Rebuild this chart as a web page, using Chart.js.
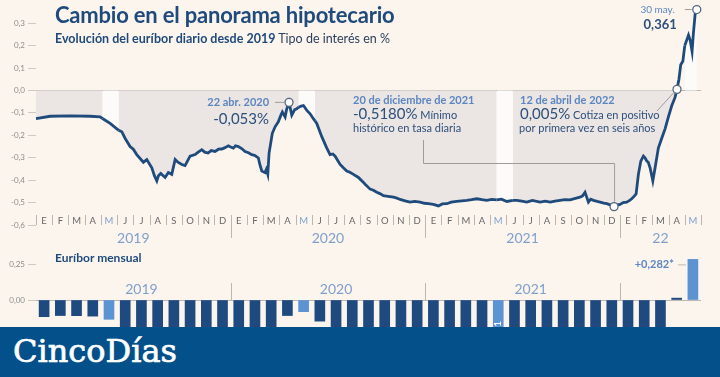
<!DOCTYPE html>
<html lang="es">
<head>
<meta charset="utf-8">
<title>Cambio en el panorama hipotecario</title>
<script src="https://cdn.jsdelivr.net/npm/chart.js@4.4.1/dist/chart.umd.min.js"></script>
<style>
  html, body { margin: 0; padding: 0; }
  body { width: 720px; height: 377px; background: #fcf5ee; position: relative; overflow: hidden; font-family: Lato, "Open Sans", sans-serif; }
  .caja { position: absolute; left: 0; width: 720px; }
  #cajaDiario { top: 0; height: 245px; }
  #cajaMensual { top: 250px; height: 77px; }
  #titulo { position: absolute; left: 55px; top: 2px; font-size: 22px; font-weight: bold; color: #1f4a7c; white-space: nowrap; line-height: 1.2; letter-spacing: -0.2px; }
  #subtitulo { position: absolute; left: 55px; top: 31px; font-size: 12.5px; color: #2b3f5c; white-space: nowrap; line-height: 1.2; }
  #subtitulo b { color: #1f4a7c; }
  #mensualTit { position: absolute; left: 55px; top: 251px; font-size: 12px; font-weight: bold; color: #1f4a7c; line-height: 1.2; }
  #banda { position: absolute; left: 0; top: 327px; width: 720px; height: 50px; background: #04508a; }
  #banda span { position: absolute; left: 13px; top: 8px; font-family: "DejaVu Serif", serif; font-size: 32px; line-height: 32px; color: #fff; -webkit-text-stroke: 0.7px #fff; }
</style>
</head>
<body>
<div class="caja" id="cajaDiario"><canvas id="diario"></canvas></div>
<div class="caja" id="cajaMensual"><canvas id="mensual"></canvas></div>
<div id="titulo">Cambio en el panorama hipotecario</div>
<div id="subtitulo"><b>Evolución del euríbor diario desde 2019</b> Tipo de interés en %</div>
<div id="mensualTit">Euríbor mensual</div>
<div id="banda"><span>CincoDías</span></div>
<script>
// meses desde enero 2019 (0 = 1 ene 2019)
const mesesLetras = ['E', 'F', 'M', 'A', 'M', 'J', 'J', 'A', 'S', 'O', 'N', 'D'];
const anios = ['2019', '2020', '2021', '22'];
const centroAnios = [6, 18, 30, 38.5];
const ticksDiario = [0.3, 0.2, 0.1, 0, -0.1, -0.2, -0.3, -0.4, -0.5, -0.6];
const ticksMensual = [0, 0.25];

const mesesDiario = [
  0, 0.87, 2.1, 3.34, 3.95, 4.1, 4.57, 5.1, 5.29, 5.49, 5.8, 6.0, 6.21, 6.62, 6.83, 7.14, 7.3, 7.45, 7.55, 7.69,
  7.96, 8.16, 8.37, 8.58, 8.75, 8.99, 9.19, 9.5, 9.81, 10.0, 10.22, 10.4, 10.61, 10.8, 11.04, 11.25, 11.46, 11.65, 11.86, 12.0,
  12.17, 12.3, 12.48, 12.7, 12.89, 13.1, 13.3, 13.5, 13.71, 13.8, 13.92, 14.12, 14.2, 14.29, 14.37, 14.57, 14.74, 14.94, 15.1, 15.19,
  15.36, 15.45, 15.6, 15.77, 15.95, 16.08, 16.2, 16.35, 16.49, 16.6, 16.7, 16.9, 17.1, 17.2, 17.31, 17.62, 17.93, 18.13, 18.3, 18.44,
  18.75, 18.95, 19.16, 19.35, 19.57, 19.88, 20.19, 20.29, 20.6, 20.8, 21.01, 21.2, 21.42, 21.7, 22.04, 22.25, 22.45, 22.75, 23.06, 23.35,
  23.68, 23.95, 24.19, 24.5, 24.81, 25.05, 25.33, 25.6, 25.94, 26.25, 26.56, 26.85, 27.18, 27.5, 27.79, 28.1, 28.4, 28.7, 29.03, 29.4,
  29.64, 29.95, 30.26, 30.6, 31.08, 31.4, 31.7, 32.0, 32.31, 32.6, 32.93, 33.2, 33.54, 33.7, 33.85, 34.06, 34.2, 34.37, 34.6, 34.78,
  35.0, 35.19, 35.4, 35.64, 35.85, 36.01, 36.2, 36.42, 36.6, 36.73, 36.9, 37.0, 37.14, 37.29, 37.45, 37.55, 37.66, 37.75, 37.86, 38.03,
  38.17, 38.37, 38.58, 38.79, 38.99, 39.2, 39.4, 39.52, 39.64, 39.75, 39.88, 40.0, 40.23, 40.33, 40.45, 40.53, 40.64, 40.74
];
const euriborDiario = [
  -0.125, -0.115, -0.113, -0.115, -0.118, -0.125, -0.147, -0.178, -0.184, -0.213, -0.25, -0.262, -0.286, -0.32, -0.308, -0.345, -0.38, -0.403, -0.38, -0.37,
  -0.388, -0.366, -0.374, -0.308, -0.32, -0.33, -0.335, -0.293, -0.286, -0.275, -0.264, -0.275, -0.279, -0.268, -0.272, -0.262, -0.261, -0.255, -0.247, -0.252,
  -0.257, -0.247, -0.25, -0.26, -0.272, -0.278, -0.286, -0.29, -0.301, -0.33, -0.359, -0.366, -0.352, -0.374, -0.279, -0.191, -0.162, -0.14, -0.11, -0.096,
  -0.118, -0.085, -0.053, -0.11, -0.085, -0.082, -0.074, -0.07, -0.067, -0.078, -0.089, -0.104, -0.126, -0.135, -0.147, -0.206, -0.257, -0.286, -0.283, -0.293,
  -0.33, -0.345, -0.359, -0.365, -0.374, -0.388, -0.41, -0.418, -0.44, -0.445, -0.454, -0.46, -0.469, -0.472, -0.476, -0.48, -0.486, -0.492, -0.498, -0.495,
  -0.498, -0.503, -0.505, -0.508, -0.515, -0.506, -0.505, -0.498, -0.495, -0.492, -0.49, -0.487, -0.483, -0.487, -0.49, -0.486, -0.488, -0.485, -0.495, -0.49,
  -0.49, -0.494, -0.498, -0.49, -0.498, -0.494, -0.498, -0.493, -0.49, -0.487, -0.488, -0.482, -0.476, -0.47, -0.454, -0.498, -0.485, -0.49, -0.495, -0.498,
  -0.502, -0.505, -0.51, -0.518, -0.51, -0.508, -0.5, -0.498, -0.49, -0.483, -0.47, -0.461, -0.374, -0.315, -0.293, -0.3, -0.315, -0.32, -0.345, -0.403,
  -0.345, -0.257, -0.213, -0.17, -0.118, -0.067, -0.031, 0.005, 0.05, 0.115, 0.13, 0.2, 0.247, 0.225, 0.174, 0.254, 0.342, 0.361
];
// tramos de mayo resaltados en blanco
const bandasMayo = [[4.1, 5.1], [16.2, 17.2], [28.4, 29.4], [40, 41]];
// puntos señalados: 22 abr 2020, 20 dic 2021, 12 abr 2022, 30 may 2022
const fechasDestacadas = [15.6, 35.64, 39.52, 40.74];

const euriborMensual = [
  -0.116, -0.108, -0.109, -0.112, -0.134, -0.190, -0.283, -0.356, -0.339, -0.304, -0.272, -0.261,
  -0.253, -0.288, -0.266, -0.108, -0.081, -0.147, -0.279, -0.359, -0.415, -0.466, -0.481, -0.497,
  -0.505, -0.501, -0.487, -0.484, -0.481, -0.484, -0.491, -0.498, -0.492, -0.477, -0.487, -0.502,
  -0.477, -0.335, -0.237, 0.013, 0.282
];

const destacados = fechasDestacadas.map(f => mesesDiario.indexOf(f));

function colorRelleno(i) {
  const m = mesesDiario[i];
  if (bandasMayo.some(([a, b]) => m >= a && m < b)) return '#fdfbfa';
  return euriborDiario[i] >= 0 ? 'rgba(0,0,0,0)' : '#ebe5e3';
}

function coma(v, d) {
  return v.toFixed(d).replace('.', ',');
}

const ejeMeses = {
  id: 'ejeMeses',
  afterDraw(chart) {
    const {ctx, scales: {x, y}} = chart;
    const base = y.bottom;
    ctx.save();
    ctx.strokeStyle = '#bcb6b2';
    ctx.lineWidth = 1;
    for (let i = 0; i <= 41; i++) {
      const px = Math.round(x.getPixelForValue(i)) + 0.5;
      const fin = (i % 12 === 0 && i > 0 && i < 41) ? base + 13 : base;
      ctx.beginPath();
      ctx.moveTo(px, base - 10);
      ctx.lineTo(px, fin);
      ctx.stroke();
    }
    ctx.font = '9.5px Lato';
    ctx.textAlign = 'center';
    ctx.textBaseline = 'middle';
    for (let i = 0; i < 41; i++) {
      ctx.fillStyle = i % 12 === 4 ? '#7fa1d0' : '#666666';
      ctx.fillText(mesesLetras[i % 12], x.getPixelForValue(i + 0.5), base - 4);
    }
    ctx.font = '14px Lato';
    ctx.fillStyle = '#7f9fcb';
    anios.forEach((a, k) => ctx.fillText(a, x.getPixelForValue(centroAnios[k]), base + 13));
    ctx.restore();
  }
};

function texto(ctx, str, x, y, font, color, align) {
  ctx.font = font;
  ctx.fillStyle = color;
  ctx.textAlign = align || 'left';
  ctx.fillText(str, x, y);
  return ctx.measureText(str).width;
}

const notas = {
  id: 'notas',
  afterDraw(chart) {
    const {ctx} = chart;
    const pts = chart.getDatasetMeta(0).data;
    const [p1, p2, p3, p4] = destacados.map(i => pts[i]);
    const claro = '#5b86c0', oscuro = '#2c4f7c';
    ctx.save();
    ctx.strokeStyle = '#a09b98';
    ctx.lineWidth = 1;
    const linea = (coords) => {
      ctx.beginPath();
      coords.forEach(([a, b], k) => k ? ctx.lineTo(a, b) : ctx.moveTo(a, b));
      ctx.stroke();
    };
    linea([[p1.x - 14, p1.y], [p1.x - 5, p1.y]]);
    linea([[p2.x + 0.5, p2.y - 5], [p2.x + 0.5, 163.5], [423.5, 163.5], [423.5, 140]]);
    linea([[657, 111], [p3.x - 3, p3.y + 3]]);
    linea([[p4.x - 12, p4.y], [p4.x - 5, p4.y]]);

    ctx.textBaseline = 'middle';
    texto(ctx, '22 abr. 2020', p1.x - 20, p1.y, 'bold 11px Lato', claro, 'right');
    texto(ctx, '-0,053%', p1.x - 20, p1.y + 17, '15px Lato', oscuro, 'right');

    texto(ctx, '20 de diciembre de 2021', 353, 100, 'bold 11px Lato', claro);
    let w = texto(ctx, '-0,5180%', 353, 114, '15px Lato', oscuro);
    texto(ctx, ' Mínimo', 353 + w, 115, '11px Lato', oscuro);
    texto(ctx, 'histórico en tasa diaria', 353, 128, '11px Lato', oscuro);

    texto(ctx, '12 de abril de 2022', 520, 100, 'bold 11px Lato', claro);
    w = texto(ctx, '0,005%', 520, 114, '15px Lato', oscuro);
    texto(ctx, ' Cotiza en positivo', 520 + w, 115, '11px Lato', oscuro);
    texto(ctx, 'por primera vez en seis años', 519, 128, '11px Lato', oscuro);

    texto(ctx, '30 may.', p4.x - 22, p4.y, '10px Lato', claro, 'right');
    texto(ctx, '0,361', p4.x - 20, p4.y + 15, 'bold 13px Lato', oscuro, 'right');
    ctx.restore();
  }
};

new Chart(document.getElementById('diario'), {
  type: 'line',
  data: {
    datasets: [{
      data: mesesDiario.map((m, i) => ({x: m, y: euriborDiario[i]})),
      borderColor: '#1f4a7c',
      borderWidth: 2.8,
      fill: 'origin',
      backgroundColor: '#ebe5e3',
      tension: 0,
      clip: false,
      pointRadius: c => destacados.includes(c.dataIndex) ? 4 : 0,
      pointBackgroundColor: '#ffffff',
      pointBorderColor: '#55677f',
      pointBorderWidth: 1.3,
      segment: { backgroundColor: c => colorRelleno(c.p0DataIndex) }
    }]
  },
  options: {
    animation: false,
    responsive: true,
    maintainAspectRatio: false,
    layout: { padding: { top: 1, right: 19, bottom: 20, left: 0 } },
    plugins: { legend: { display: false }, tooltip: { enabled: false } },
    scales: {
      x: { type: 'linear', min: 0, max: 41, display: false },
      y: {
        min: -0.6,
        max: 0.38,
        afterBuildTicks: s => { s.ticks = ticksDiario.map(v => ({value: v})); },
        afterFit: s => { s.width = 36; s.paddingTop = 0; s.paddingBottom = 0; },
        border: { display: false },
        grid: {
          color: c => c.tick && c.tick.value === 0 ? '#bdb6b3' : 'rgba(0,0,0,0)',
          tickColor: '#cfc9c5',
          tickLength: 8
        },
        ticks: { color: '#8c8c8c', font: { family: 'Lato', size: 8 }, padding: 3, callback: v => coma(v, 1) }
      }
    }
  },
  plugins: [ejeMeses, notas]
});

const etiquetasMes = euriborMensual.map((v, i) => mesesLetras[i % 12] + ' ' + (2019 + Math.floor(i / 12)));

const mensualExtra = {
  id: 'mensualExtra',
  afterDraw(chart) {
    const {ctx, scales: {x, y}} = chart;
    const cero = y.getPixelForValue(0);
    const paso = x.width / euriborMensual.length;
    ctx.save();
    ctx.strokeStyle = '#bcb6b2';
    ctx.lineWidth = 1;
    [12, 24, 36].forEach(i => {
      const px = Math.round(x.getPixelForValue(i) - paso / 2) + 0.5;
      ctx.beginPath();
      ctx.moveTo(px, cero - 17);
      ctx.lineTo(px, cero);
      ctx.stroke();
    });
    ctx.font = '14px Lato';
    ctx.fillStyle = '#7f9fcb';
    ctx.textAlign = 'center';
    ctx.textBaseline = 'middle';
    [6, 18, 30].forEach((c, k) => ctx.fillText(anios[k], x.getPixelForValue(c), cero - 11));

    const ult = euriborMensual.length - 1;
    const bx = x.getPixelForValue(ult), by = y.getPixelForValue(euriborMensual[ult]);
    ctx.beginPath();
    ctx.moveTo(bx - 15, by + 5.5);
    ctx.lineTo(bx - 7, by + 5.5);
    ctx.stroke();
    ctx.font = 'bold 11px Lato';
    ctx.fillStyle = '#5b86c0';
    ctx.textAlign = 'right';
    ctx.fillText('+' + coma(euriborMensual[ult], 3) + '*', bx - 19, by + 5);

    // valor de mayo 2021 en vertical dentro de la barra
    const iMay = 28;
    ctx.translate(x.getPixelForValue(iMay), cero + 21);
    ctx.rotate(-Math.PI / 2);
    ctx.font = 'bold 10px Lato';
    ctx.fillStyle = '#ffffff';
    ctx.textAlign = 'right';
    ctx.fillText(coma(euriborMensual[iMay], 3), 0, 0);
    ctx.restore();
  }
};

new Chart(document.getElementById('mensual'), {
  type: 'bar',
  data: {
    labels: etiquetasMes,
    datasets: [{
      data: euriborMensual,
      backgroundColor: euriborMensual.map((v, i) => i % 12 === 4 ? '#5b93d3' : '#1f4a7f'),
      barThickness: 10,
      borderWidth: 0
    }]
  },
  options: {
    animation: false,
    responsive: true,
    maintainAspectRatio: false,
    layout: { padding: { top: 5, right: 19, bottom: 0, left: 0 } },
    plugins: { legend: { display: false }, tooltip: { enabled: false } },
    scales: {
      x: { display: false },
      y: {
        min: -0.1875,
        max: 0.3125,
        afterBuildTicks: s => { s.ticks = ticksMensual.map(v => ({value: v})); },
        afterFit: s => { s.width = 36; s.paddingTop = 0; s.paddingBottom = 0; },
        border: { display: false },
        grid: {
          color: c => c.tick && c.tick.value === 0 ? '#bdb6b3' : 'rgba(0,0,0,0)',
          tickColor: '#cfc9c5',
          tickLength: 8
        },
        ticks: { color: '#8c8c8c', font: { family: 'Lato', size: 8 }, padding: 3, callback: v => coma(v, 2) }
      }
    }
  },
  plugins: [mensualExtra]
});
</script>
</body>
</html>
